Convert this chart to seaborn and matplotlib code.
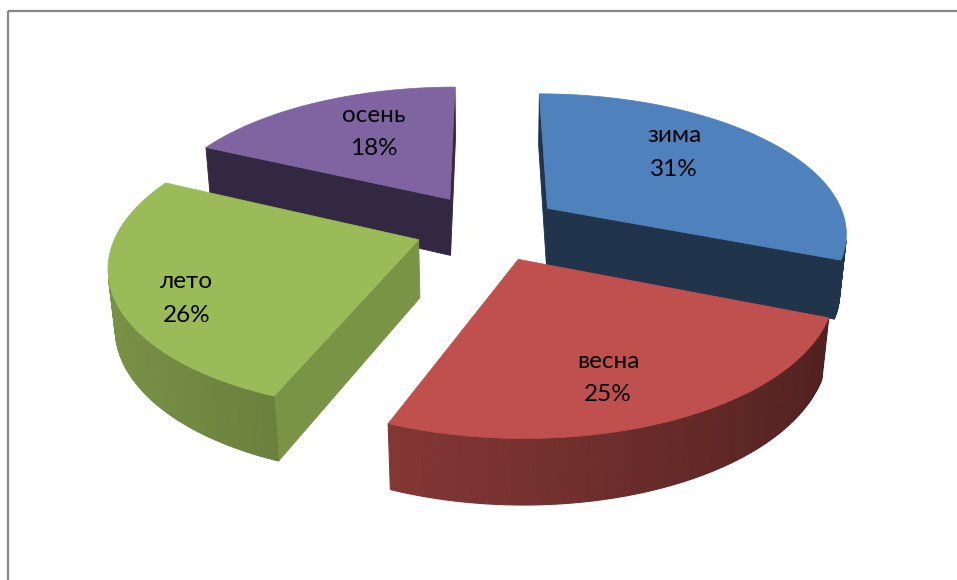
import numpy as np
import matplotlib
matplotlib.use("Agg")
import matplotlib.pyplot as plt
from matplotlib.patches import Rectangle
import seaborn as sns

# ---- data ----
seasons = ["зима", "весна", "лето", "осень"]
shares = [31, 25, 26, 18]
hex_colors = ["#4F81BD", "#C0504D", "#9BBB59", "#8064A2"]
# percent-label baselines (pixel layout), one per slice
label_pos = [(674, 176), (608, 401), (187, 322), (374, 155)]
# shading of the flat radial faces for each slice
radial_shade = [0.40, 0.45, 0.79, 0.40]

sns.set_theme(style="white")
plt.rcParams['font.family'] = ['Lato', 'DejaVu Sans']
palette = sns.color_palette(hex_colors)

W, Hpx = 957, 580
fig = plt.figure(figsize=(W / 100, Hpx / 100), dpi=100)
ax = fig.add_axes([0, 0, 1, 1])
ax.set_xlim(0, W)
ax.set_ylim(Hpx, 0)
ax.axis('off')

# frame (chart area border)
ax.add_patch(Rectangle((8, 11), 2000, 2000, fill=False, ec="#868686", lw=1.6, zorder=0))

# ---- 3D projection ----
CX, CY = 488, 227
S = 300.0
D = 5.5
ALPHA = np.deg2rad(27.5)
SA, CA = np.sin(ALPHA), np.cos(ALPHA)
F = S * D
EXPLODE = 0.245
DEPTH = 0.22
CAM = np.array([0.0, -D * CA, D * SA])


def project(X, Y, Z):
    X = np.asarray(X, float); Y = np.asarray(Y, float); Z = np.asarray(Z, float)
    d = D + Y * CA - Z * SA
    return CX + F * X / d, CY - F * (Y * SA + Z * CA) / d


def visible(normal, point):
    return np.dot(normal, CAM - point) > 0


def shade(c, f):
    return tuple(min(1, max(0, v * f)) for v in c)


def wall_factor(psi):
    return 0.58 + 0.20 * np.cos(psi - np.deg2rad(260))


total = float(sum(shares))
fracs = np.array(shares) / total
starts = np.concatenate([[0], np.cumsum(fracs)[:-1]]) * 2 * np.pi
ends = np.cumsum(fracs) * 2 * np.pi

slices = []
for i in range(len(shares)):
    ps, pe = starts[i], ends[i]
    m = 0.5 * (ps + pe)
    ox, oy = EXPLODE * np.sin(m), EXPLODE * np.cos(m)
    cy_world = oy + 0.5 * np.cos(m)
    depth = D + cy_world * CA
    slices.append((depth, i, ps, pe, ox, oy))

slices.sort(key=lambda t: -t[0])

zc = 2.0
for depth, i, ps, pe, ox, oy in slices:
    col = palette[i]
    n = max(8, int(np.degrees(pe - ps) * 1.5))
    phi = np.linspace(ps, pe, n + 1)
    ax_x = ox + np.sin(phi)
    ax_y = oy + np.cos(phi)
    faces = []
    nstart = np.array([-np.cos(ps), np.sin(ps), 0])
    pstart = np.array([ox + 0.5 * np.sin(ps), oy + 0.5 * np.cos(ps), -DEPTH / 2])
    if visible(nstart, pstart):
        faces.append((ax_x[0], ax_y[0]))
    nend = np.array([np.cos(pe), -np.sin(pe), 0])
    pend = np.array([ox + 0.5 * np.sin(pe), oy + 0.5 * np.cos(pe), -DEPTH / 2])
    if visible(nend, pend):
        faces.append((ax_x[-1], ax_y[-1]))
    for fx, fy in faces:
        c = shade(col, radial_shade[i])
        sx, sy = project([ox, fx, fx, ox], [oy, fy, fy, oy], [0, 0, -DEPTH, -DEPTH])
        ax.fill(sx, sy, color=c, lw=0.6, ec=c, zorder=zc)
        zc += 0.001
    # outer curved wall
    for k in range(n):
        pm = 0.5 * (phi[k] + phi[k + 1])
        nrm = np.array([np.sin(pm), np.cos(pm), 0])
        pt = np.array([ox + np.sin(pm), oy + np.cos(pm), -DEPTH / 2])
        if not visible(nrm, pt):
            continue
        X = [ax_x[k], ax_x[k + 1], ax_x[k + 1], ax_x[k]]
        Y = [ax_y[k], ax_y[k + 1], ax_y[k + 1], ax_y[k]]
        Z = [0, 0, -DEPTH, -DEPTH]
        c = shade(col, wall_factor(pm))
        sx, sy = project(X, Y, Z)
        ax.fill(sx, sy, color=c, lw=0.8, ec=c, zorder=zc)
        zc += 0.001
    # top face
    X = np.concatenate([[ox], ax_x])
    Y = np.concatenate([[oy], ax_y])
    Z = np.zeros_like(X)
    sx, sy = project(X, Y, Z)
    ax.fill(sx, sy, color=col, lw=0.5, ec=col, zorder=zc)
    zc += 0.001

for i, (x, yb) in enumerate(label_pos):
    ax.text(x, yb - 33.5, seasons[i], ha='center', va='baseline', fontsize=17.5,
            color='black', zorder=10)
    ax.text(x, yb, f"{shares[i]}%", ha='center', va='baseline', fontsize=17.5,
            color='black', zorder=10)

fig.savefig("out.png", dpi=100)
